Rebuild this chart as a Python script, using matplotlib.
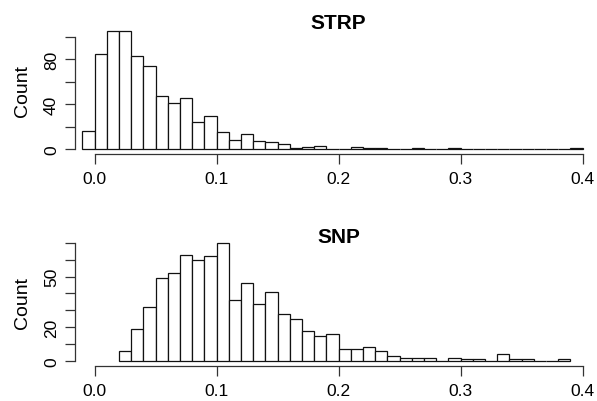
import matplotlib
matplotlib.use("Agg")
import matplotlib.pyplot as plt
import numpy as np

plt.rcParams['font.family'] = ['Liberation Sans', 'DejaVu Sans']

# histogram counts, bin width 0.01
strp_start = -0.01
strp_counts = [16, 85, 105, 105, 83, 74, 47, 41, 45, 24, 29, 15, 8, 13, 7, 6, 4,
               1, 2, 3, 0, 0, 2, 1, 1, 0, 0, 1, 0, 0, 1,
               0, 0, 0, 0, 0, 0, 0, 0, 0, 1]
snp_start = 0.02
snp_counts = [6, 19, 32, 49, 52, 63, 60, 62, 70, 36, 46, 34, 41, 28, 25, 18, 15,
              16, 7, 7, 8, 6, 3, 2, 2, 2, 0, 2, 1, 1, 0, 4, 1, 1, 0, 0, 1]
bin_w = 0.01

x_ticks = [0.0, 0.1, 0.2, 0.3, 0.4]
x_labels = ["0.0", "0.1", "0.2", "0.3", "0.4"]

strp_yticks = [0, 20, 40, 60, 80, 100]
strp_ylabels = ["0", "", "40", "", "80", ""]
snp_yticks = [0, 10, 20, 30, 40, 50, 60, 70]
snp_ylabels = ["0", "", "20", "", "", "50", "", ""]

fig = plt.figure(figsize=(5.97, 4.02), dpi=100)
ax1 = fig.add_axes([0.1256, 0.6152, 0.8827, 0.3167])
ax2 = fig.add_axes([0.1256, 0.0878, 0.8827, 0.3177])

axcol = "#333333"


def panel(ax, start, counts, yticks, ylabels, ylim, title, title_y):
    lefts = start + bin_w * np.arange(len(counts))
    ax.bar(lefts, counts, width=bin_w, align='edge', color='white',
           edgecolor='#111111', linewidth=0.9)
    ax.set_xlim(-0.0161, 0.4159)
    ax.set_ylim(*ylim)
    for s in ['top', 'right']:
        ax.spines[s].set_visible(False)
    ax.spines['left'].set_bounds(yticks[0], yticks[-1])
    ax.spines['bottom'].set_bounds(0.0, 0.4)
    for s in ['left', 'bottom']:
        ax.spines[s].set_color(axcol)
        ax.spines[s].set_linewidth(0.9)
    ax.set_xticks(x_ticks, x_labels)
    ax.set_yticks(yticks, ylabels)
    ax.tick_params(axis='both', length=7.5, width=0.9, color=axcol,
                   labelsize=12.5)
    ax.tick_params(axis='x', pad=5)
    ax.tick_params(axis='y', pad=4, labelrotation=90)
    for t in ax.get_yticklabels():
        t.set_va('center')
    ax.set_ylabel("Count", fontsize=14)
    ax.yaxis.set_label_coords(-0.084, 0.5)
    ax.text(0.5, title_y, title, transform=ax.transAxes, ha='center',
            va='baseline', fontsize=15, fontweight='bold')


panel(ax1, strp_start, strp_counts, strp_yticks, strp_ylabels,
      (-4.2, 109.2), "STRP", 0.985)
panel(ax2, snp_start, snp_counts, snp_yticks, snp_ylabels,
      (-2.8, 72.8), "SNP", 0.966)

fig.savefig("out.png", dpi=100)
